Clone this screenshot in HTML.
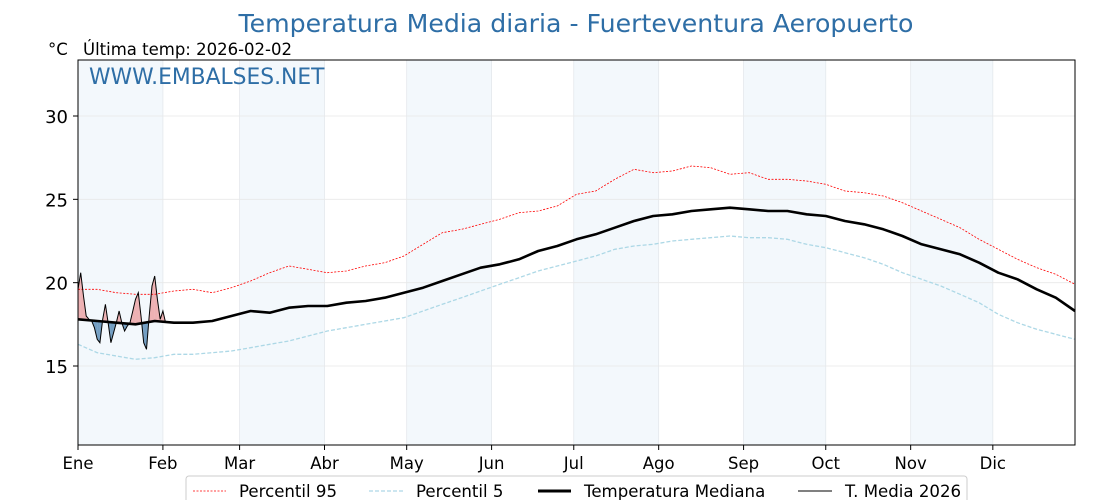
<!DOCTYPE html>
<html><head><meta charset="utf-8"><style>
body{margin:0;background:#fff;}
svg{display:block;font-family:"DejaVu Sans","Liberation Sans",sans-serif;}
</style></head><body>
<svg id="chart" width="1120" height="500" viewBox="0 0 1120 500">
<text x="576" y="32" text-anchor="middle" font-size="25.2" fill="#2e6ea6">Temperatura Media diaria - Fuerteventura Aeropuerto</text>
<text x="48" y="55" font-size="16.5" fill="#000">°C</text>
<text x="83" y="55" font-size="16.5" fill="#000">Última temp: 2026-02-02</text>
<g id="bands"></g><g id="grid"></g><g id="series"></g>
<rect x="78" y="60" width="997" height="385" fill="none" stroke="#000" stroke-width="1"/>
<text x="89" y="84" font-size="21.8" fill="#2e6ea6">WWW.EMBALSES.NET</text>
<g id="axes"></g>
<g>
<rect x="186" y="476" width="781" height="30" rx="3" fill="#fff" stroke="#ccc"/>
<line x1="193" y1="491" x2="226" y2="491" stroke="red" stroke-width="0.8" stroke-dasharray="2,1.5"/>
<text x="239" y="497" font-size="16.6">Percentil 95</text>
<line x1="369" y1="491" x2="403" y2="491" stroke="#add8e6" stroke-width="1.2" stroke-dasharray="4,2"/>
<text x="416" y="497" font-size="16.6">Percentil 5</text>
<line x1="538" y1="491" x2="571" y2="491" stroke="#000" stroke-width="3"/>
<text x="584" y="497" font-size="16.6">Temperatura Mediana</text>
<line x1="798" y1="491" x2="832" y2="491" stroke="#000" stroke-width="1"/>
<text x="845" y="497" font-size="16.6">T. Media 2026</text>
</g>
</svg>
<script>
const months=["Ene","Feb","Mar","Abr","May","Jun","Jul","Ago","Sep","Oct","Nov","Dic"];
const monthStart=[0,31,59,90,120,151,181,212,243,273,304,334];
const yTicks=[15,20,25,30];
const p95=[19.6,19.6,19.4,19.3,19.3,19.5,19.6,19.4,19.7,20.1,20.6,21.0,20.8,20.6,20.7,21.0,21.2,21.6,22.3,23.0,23.2,23.5,23.8,24.2,24.3,24.6,25.3,25.5,26.2,26.8,26.6,26.7,27.0,26.9,26.5,26.6,26.2,26.2,26.1,25.9,25.5,25.4,25.2,24.8,24.3,23.8,23.3,22.6,22.0,21.4,20.9,20.5,19.9];
const p5=[16.3,15.8,15.6,15.4,15.5,15.7,15.7,15.8,15.9,16.1,16.3,16.5,16.8,17.1,17.3,17.5,17.7,17.9,18.3,18.7,19.1,19.5,19.9,20.3,20.7,21.0,21.3,21.6,22.0,22.2,22.3,22.5,22.6,22.7,22.8,22.7,22.7,22.6,22.3,22.1,21.8,21.5,21.1,20.6,20.2,19.8,19.3,18.8,18.1,17.6,17.2,16.9,16.6];
const median=[17.8,17.7,17.6,17.5,17.7,17.6,17.6,17.7,18.0,18.3,18.2,18.5,18.6,18.6,18.8,18.9,19.1,19.4,19.7,20.1,20.5,20.9,21.1,21.4,21.9,22.2,22.6,22.9,23.3,23.7,24.0,24.1,24.3,24.4,24.5,24.4,24.3,24.3,24.1,24.0,23.7,23.5,23.2,22.8,22.3,22.0,21.7,21.2,20.6,20.2,19.6,19.1,18.3];
const t2026=[19.6,20.6,19.2,18.0,17.8,17.7,17.3,16.6,16.4,17.8,18.7,17.6,16.4,17.0,17.6,18.3,17.6,17.1,17.4,17.6,18.3,19.0,19.4,18.0,16.4,16.0,18.0,19.8,20.4,19.0,17.8,18.3,17.6];
const X0=78,X1=1075,Y0=60,Y1=445,DAYS=364,YMIN=10.26,YMAX=33.36;
const xs=d=>X0+(X1-X0)*d/DAYS;
const ys=v=>Y1-(Y1-Y0)*(v-YMIN)/(YMAX-YMIN);
const NS="http://www.w3.org/2000/svg";
function mk(tag,attrs,parent){const e=document.createElementNS(NS,tag);for(const k in attrs)e.setAttribute(k,attrs[k]);document.getElementById(parent).appendChild(e);return e;}
for(let i=0;i<12;i+=2){const a=monthStart[i],b=monthStart[i+1];
const r=mk('rect',{x:xs(a),y:Y0,width:xs(b)-xs(a),height:Y1-Y0,fill:'#f3f8fc'},'bands');

}
monthStart.forEach((d,i)=>{
const l=mk('line',{x1:xs(d),x2:xs(d),y1:Y0,y2:Y1,stroke:'#e4e8ec','stroke-width':0.8},'grid');

const t=mk('line',{x1:xs(d),x2:xs(d),y1:Y1,y2:Y1+5,stroke:'#000'},'axes');

const tx=mk('text',{x:xs(d),y:Y1+24,'text-anchor':'middle','font-size':16.5},'axes');tx.textContent=months[i];
});
yTicks.forEach(v=>{
const l=mk('line',{x1:X0,x2:X1,y1:ys(v),y2:ys(v),stroke:'#e8e8e8','stroke-width':0.8},'grid');

const t=mk('line',{x1:X0-5,x2:X0,y1:ys(v),y2:ys(v),stroke:'#000'},'axes');

const tx=mk('text',{x:X0-10,y:ys(v)+7,'text-anchor':'end','font-size':18},'axes');tx.textContent=v;
});
const wk=i=>Math.min(i*7,DAYS);
const pts=(arr,f)=>arr.map((v,i)=>xs(f(i)).toFixed(1)+','+ys(v).toFixed(1)).join(' ');
function medAt(d){const w=d/7,i=Math.floor(w),f=w-i;return median[i]+(median[Math.min(i+1,median.length-1)]-median[i])*f;}
for(let d=0;d<t2026.length-1;d++){
const a=t2026[d],b=t2026[d+1],ma=medAt(d),mb=medAt(d+1);
const da=a-ma,db=b-mb;
const seg=(d0,v0,m0,d1,v1,m1,col)=>{const p=mk('polygon',{points:`${xs(d0)},${ys(v0)} ${xs(d1)},${ys(v1)} ${xs(d1)},${ys(m1)} ${xs(d0)},${ys(m0)}`,fill:col,stroke:'none'},'series');
};
if(da*db>=0){seg(d,a,ma,d+1,b,mb,(da+db)>=0?'rgba(230,90,90,0.45)':'rgba(60,120,170,0.7)');}
else{const t=da/(da-db),dc=d+t,vc=ma+(mb-ma)*t;
seg(d,a,ma,dc,vc,vc,da>0?'rgba(230,90,90,0.45)':'rgba(60,120,170,0.7)');
seg(dc,vc,vc,d+1,b,mb,db>0?'rgba(230,90,90,0.45)':'rgba(60,120,170,0.7)');}}
const l95=mk('polyline',{points:pts(p95,wk),fill:'none',stroke:'red','stroke-width':0.8,'stroke-dasharray':'2,1.5'},'series');

const l5=mk('polyline',{points:pts(p5,wk),fill:'none',stroke:'#add8e6','stroke-width':1.3,'stroke-dasharray':'4,2'},'series');

const lm=mk('polyline',{points:pts(median,wk),fill:'none',stroke:'#000','stroke-width':2.6,'stroke-linejoin':'round'},'series');

const l26=mk('polyline',{points:pts(t2026,i=>i),fill:'none',stroke:'#000','stroke-width':1},'series');

</script>
</body></html>
